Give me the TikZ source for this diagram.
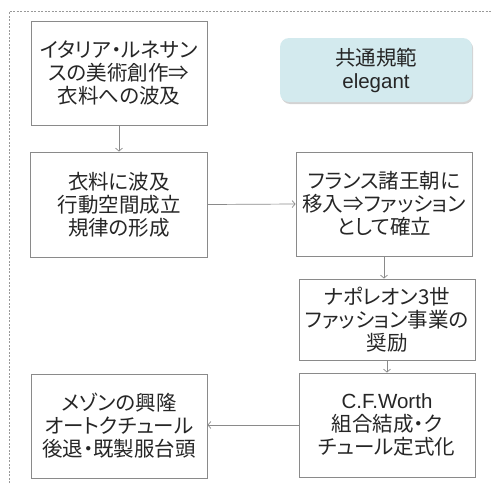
\documentclass[tikz,border=0pt]{standalone}
\usepackage{fontspec}
\setmainfont{Noto Sans CJK JP}[RawFeature=+palt]
\newfontfamily\latinfont{Liberation Sans}
\usetikzlibrary{arrows.meta,shadows}
\definecolor{boxline}{HTML}{8A8A8A}
\definecolor{txt}{HTML}{262626}
\definecolor{elegfill}{HTML}{D3EAEE}
\tikzset{
  flowbox/.style={draw=boxline, line width=0.9pt, fill=white, text=txt,
    align=center, inner sep=0pt, font=\fontsize{20.5}{23}\selectfont},
  conn/.style={draw=boxline, line width=0.7pt, -{Straight Barb[length=3pt,width=7pt]}},
  frame/.style={draw=black!40, line width=0.7pt, dash pattern=on 2pt off 1.5pt},
  eleg/.style={draw=none, fill=elegfill, rounded corners=9pt, text=txt, align=center,
    font=\fontsize{20.5}{23}\selectfont, inner sep=0pt,
    drop shadow={opacity=0.35, shadow xshift=1.2pt, shadow yshift=-2pt}}
}
\begin{document}
\begin{tikzpicture}[x=1pt,y=-1pt]
\useasboundingbox (0,0) rectangle (492,483);
\coordinate (fb) at (9,483);
\coordinate (ft) at (9,11);
\coordinate (fr) at (492,11);
\draw[frame] (fb) -- (ft) -- (fr);

\node[flowbox, minimum width=176pt, minimum height=104pt] (b1) at (119,73)
  {イタリア・ルネサン\\スの美術創作⇒\\衣料への波及};
\node[flowbox, minimum width=177pt, minimum height=105pt] (b2) at (119,204.5)
  {衣料に波及\\行動空間成立\\規律の形成};
\node[flowbox, minimum width=176pt, minimum height=104pt] (b3) at (384,204)
  {フランス諸王朝に\\移入⇒ファッション\\として確立};
\node[flowbox, minimum width=176pt, minimum height=81pt] (b4) at (387,319.5)
  {ナポレオン3世\\ファッション事業の\\奨励};
\node[flowbox, minimum width=176pt, minimum height=104pt] (b5) at (387,425)
  {{\latinfont C.F.Worth}\\組合結成・ク\\チュール定式化};
\node[flowbox, minimum width=176pt, minimum height=104pt] (b6) at (119,426)
  {メゾンの興隆\\オートクチュール\\後退・既製服台頭};
\node[eleg, minimum width=192pt, minimum height=64pt] (el) at (376,70)
  {共通規範\\{\latinfont elegant}};

\draw[conn] (b1.south) -- (b2.north);
\draw[conn] (b2.east) -- (b3.west);
\draw[conn] (b3.south) -- (b3.south |- b4.north);
\draw[conn] (b4.south) -- (b5.north);
\draw[conn] (b5.west) -- (b5.west -| b6.east);
\end{tikzpicture}
\end{document}
